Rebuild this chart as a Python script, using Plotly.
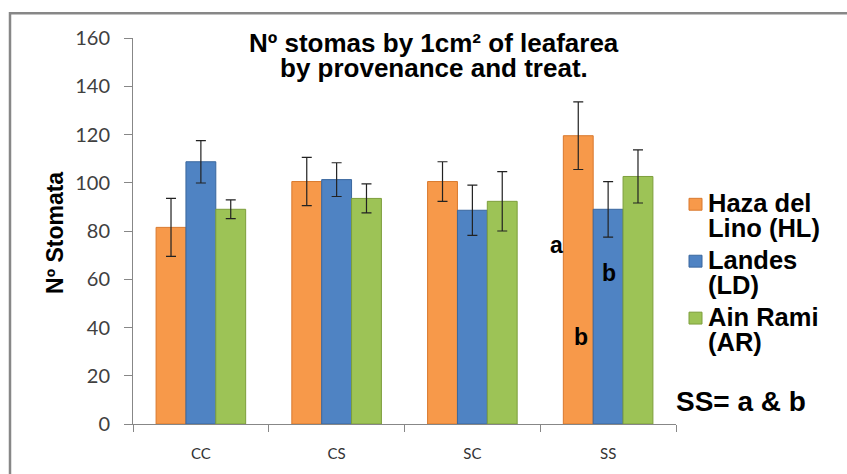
import plotly.graph_objects as go

categories = ["CC", "CS", "SC", "SS"]
series_names = ["Haza del Lino (HL)", "Landes (LD)", "Ain Rami (AR)"]
hl_values = [81.5, 100.5, 100.5, 119.5]
hl_errors = [12.0, 10.0, 8.2, 14.0]
ld_values = [108.7, 101.3, 88.6, 89.0]
ld_errors = [8.8, 7.0, 10.4, 11.5]
ar_values = [89.0, 93.5, 92.3, 102.6]
ar_errors = [3.9, 6.0, 12.3, 11.0]
legend_lines = [["Haza del", "Lino (HL)"], ["Landes", "(LD)"], ["Ain Rami", "(AR)"]]
y_ticks = [0, 20, 40, 60, 80, 100, 120, 140, 160]

fills = ["#F7994A", "#4F83C3", "#9DC356"]
edges = ["#D9792E", "#3A679E", "#7D9E3C"]

W, H = 847, 474
L, R, T, B = 133, 171, 38, 46
PW, PH = W - L - R, H - T - B


def px(x):
    return (x - L) / PW


def py(y):
    return (H - B - y) / PH


fig = go.Figure()
for name, vals, errs, f, e in zip(series_names, [hl_values, ld_values, ar_values],
                                  [hl_errors, ld_errors, ar_errors], fills, edges):
    fig.add_trace(go.Bar(
        x=categories, y=vals, name=name,
        marker=dict(color=f, line=dict(color=e, width=1)),
        error_y=dict(type="data", array=errs, visible=True,
                     color="#222222", thickness=1.2, width=5),
        showlegend=False,
    ))

bold = "Liberation Sans, Arial, sans-serif"
annotations = []
# title
annotations.append(dict(x=px(434), y=py(43), xref="paper", yref="paper",
                        text="Nº stomas by 1cm² of leafarea", showarrow=False,
                        xanchor="center", yanchor="middle",
                        font=dict(family=bold, size=26, color="#000000", weight="bold")))
annotations.append(dict(x=px(434), y=py(68.5), xref="paper", yref="paper",
                        text="by provenance and treat.", showarrow=False,
                        xanchor="center", yanchor="middle",
                        font=dict(family=bold, size=26, color="#000000", weight="bold")))
# y axis title
annotations.append(dict(x=px(55), y=py(235), xref="paper", yref="paper",
                        text="Nº Stomata", showarrow=False, textangle=-90,
                        xanchor="center", yanchor="middle",
                        font=dict(family=bold, size=23, color="#000000", weight="bold")))
# legend text
line_centers = [(205, 230), (262.5, 287.5), (319.5, 345)]
marker_centers = [206, 263.5, 321]
for (l1, l2), (c1, c2) in zip(legend_lines, line_centers):
    for t, c in ((l1, c1), (l2, c2)):
        annotations.append(dict(x=px(706), y=py(c), xref="paper", yref="paper",
                                text=t, showarrow=False, xanchor="left", yanchor="middle",
                                font=dict(family=bold, size=25.5, color="#000000", weight="bold")))
# letters
for t, x, y in (("a", 556, 247), ("b", 609, 275), ("b", 581, 340)):
    annotations.append(dict(x=px(x), y=py(y), xref="paper", yref="paper",
                            text=t, showarrow=False, xanchor="center", yanchor="middle",
                            font=dict(family=bold, size=23, color="#000000", weight="bold")))
annotations.append(dict(x=px(741), y=py(405), xref="paper", yref="paper",
                        text="SS= a & b", showarrow=False, xanchor="center", yanchor="middle",
                        font=dict(family=bold, size=28, color="#000000", weight="bold")))

shapes = []
# outer frame
shapes.append(dict(type="rect", xref="paper", yref="paper",
                   x0=px(10), x1=px(880), y0=py(500), y1=py(13),
                   line=dict(color="#878787", width=2.5), fillcolor="rgba(0,0,0,0)", layer="below"))
# legend markers
for mc, f, e in zip(marker_centers, fills, edges):
    shapes.append(dict(type="rect", xref="paper", yref="paper",
                       x0=px(689), x1=px(702), y0=py(mc + 6), y1=py(mc - 6),
                       line=dict(color=e, width=1), fillcolor=f))

fig.update_layout(
    width=W, height=H,
    margin=dict(l=L, r=R, t=T, b=B, pad=0),
    paper_bgcolor="white", plot_bgcolor="white",
    barmode="group", bargap=0.34, bargroupgap=0.0,
    annotations=annotations, shapes=shapes,
    xaxis=dict(showline=True, linecolor="#878787", linewidth=1,
               ticks="outside", tickson="boundaries", ticklen=7, tickcolor="#878787",
               tickfont=dict(family="Lato, sans-serif", size=15, color="#333333"),
               ticklabelstandoff=16, showgrid=False, zeroline=False),
    yaxis=dict(range=[0, 160], tickvals=y_ticks, showline=True, linecolor="#878787",
               linewidth=1, ticks="outside", ticklen=8, tickcolor="#878787",
               tickfont=dict(family="Lato, sans-serif", size=20, color="#404040"),
               ticklabelstandoff=10, showgrid=False, zeroline=False),
)

fig.write_html("out.html", config={"displayModeBar": False},
               post_script="document.body.style.margin='0px';")
